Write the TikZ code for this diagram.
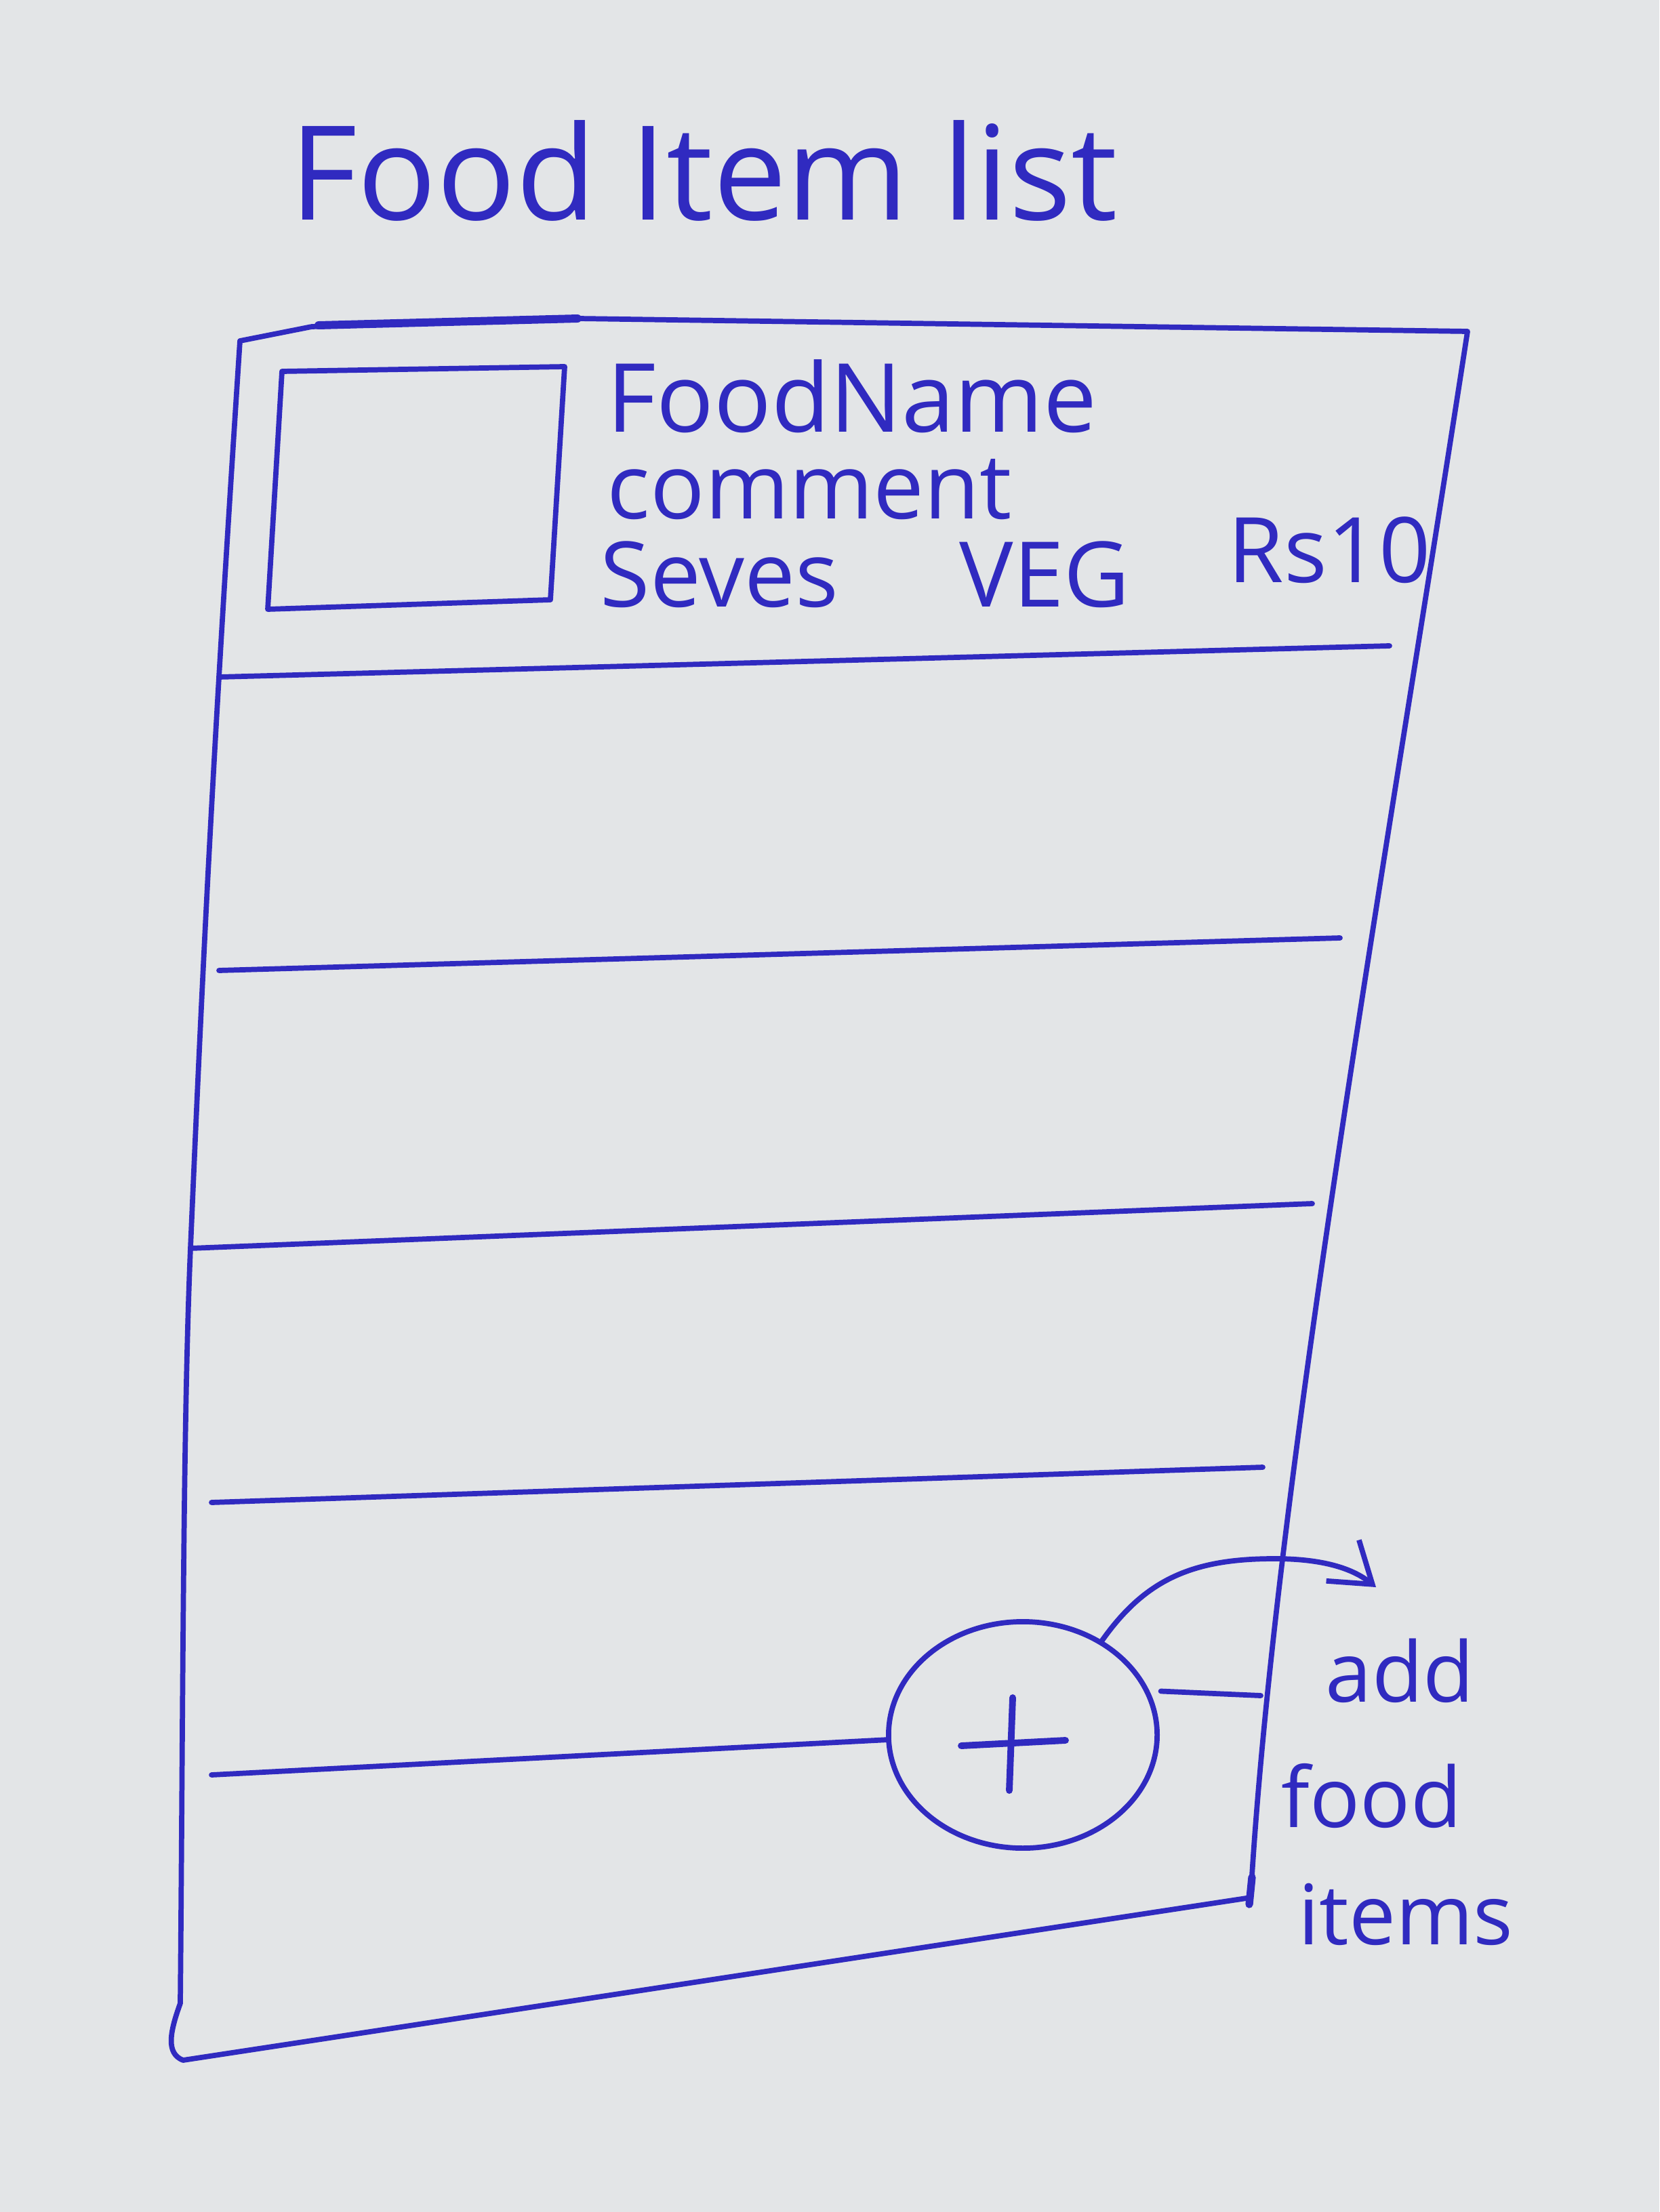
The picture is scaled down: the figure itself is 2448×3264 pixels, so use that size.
\documentclass[tikz,border=0pt]{standalone}
\usepackage{fontspec}
\setmainfont{Open Sans}
\usetikzlibrary{shapes.geometric,arrows.meta}
\definecolor{ink}{RGB}{48,42,192}
\definecolor{paper}{RGB}{227,229,231}
\begin{document}
\begin{tikzpicture}[x=0.01cm,y=-0.01cm,
  pen/.style={draw=ink,line width=2.2pt,line cap=round,line join=round},
  handtext/.style={text=ink,inner sep=0pt,anchor=west},
  titletext/.style={handtext,font=\fontsize{55}{62}\selectfont},
  cardtext/.style={handtext,font=\fontsize{38}{44}\selectfont},
  notetext/.style={handtext,font=\fontsize{35}{40}\selectfont},
  fab/.style={pen,ellipse,minimum width=3.96cm,minimum height=3.34cm,inner sep=0pt}]
\fill[paper] (0,0) rectangle (2448,3264);
\useasboundingbox (0,0) rectangle (2448,3264);

% screen title
\node[titletext] (title) at (427,252) {Food Item list};

% phone frame
\coordinate (tl) at (354,503);
\coordinate (tr) at (2165,489);
\coordinate (br) at (1845,2800);
\coordinate (bl) at (266,2956);
\draw[pen] (tl) -- (460,482) -- (853,470) -- (tr)
  .. controls (2040,1300) and (1880,2200) .. (br)
  -- (270,3040) .. controls (245,3030) and (250,3000) .. (bl)
  .. controls (270,2500) and (270,2100) .. (281,1842)
  .. controls (300,1400) and (315,1100) .. cycle;
\draw[pen,line width=3.4pt] (470,480) -- (852,470);
\draw[pen,line width=3.2pt] (1847,2770) -- (1843,2810);

% list row separators
\draw[pen] (323,999) -- (2050,953);
\draw[pen] (323,1432) -- (1977,1384);
\draw[pen] (281,1842) -- (1936,1776);
\draw[pen] (312,2217) -- (1863,2165);
\draw[pen] (312,2619) -- (1311,2567);

% first list item
\draw[pen] (416,548) -- (833,541) -- (812,885) -- (395,899) -- cycle;
\node[cardtext,font=\fontsize{40}{46}\selectfont] (name) at (895,585) {FoodName};
\node[cardtext] (comment) at (895,722) {comment};
\node[cardtext] (serves) at (885,848) {Seves};
\node[cardtext] (veg) at (1415,848) {VEG};
\node[cardtext] (price) at (1811,812) {Rs10};

% floating add button
\node[fab] (add) at (1509,2560) {};
\draw[pen,line width=2.8pt] (1418,2576) -- (1572,2568);
\draw[pen,line width=2.8pt] (1494,2505) -- (1489,2642);

% annotation
\coordinate (tip) at (2030,2342);
\draw[pen,-{Straight Barb[length=16pt,width=22pt]}] (add.50)
  .. controls (1690,2330) and (1760,2300) .. (1880,2300)
  .. controls (1960,2300) and (2000,2318) .. (tip);
\coordinate (edge) at (1860,2502);
\draw[pen] (add.20) ++(18,3) -- (edge);
\node[notetext] (note1) at (1955,2465) {add};
\node[notetext] (note2) at (1890,2650) {food};
\node[notetext] (note3) at (1915,2825) {items};
\end{tikzpicture}
\end{document}
